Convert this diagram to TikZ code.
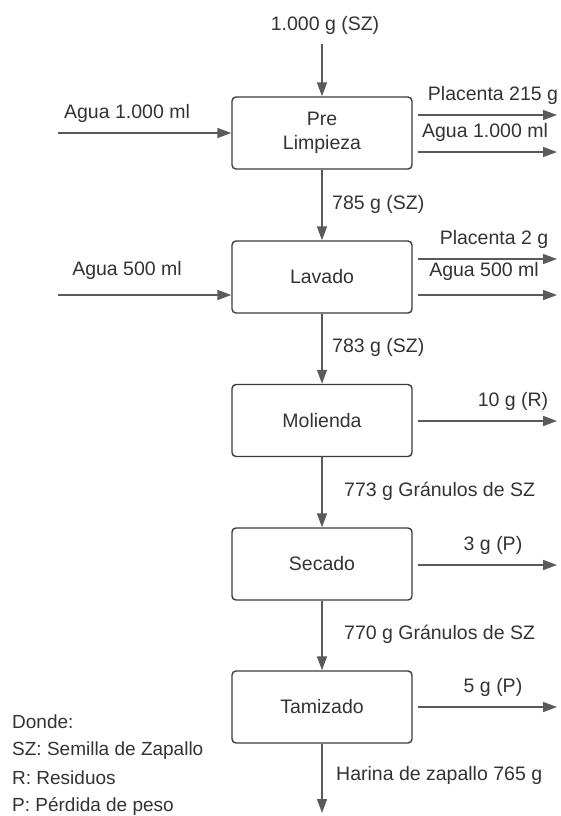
\documentclass[tikz,border=0pt]{standalone}
\usepackage{fontspec}
\setmainfont{Liberation Sans}
\usetikzlibrary{arrows.meta}
\definecolor{txt}{HTML}{333333}
\definecolor{ln}{HTML}{5A5A5A}
\definecolor{bx}{HTML}{3C3C3C}
\begin{document}
\begin{tikzpicture}[x=1pt,y=-1pt,
  proc/.style={draw=bx, line width=1.4pt, rounded corners=4pt, minimum width=180pt, minimum height=72pt, inner sep=0pt, align=center, text=txt, font=\fontsize{19.5}{24}\selectfont},
  flow/.style={draw=ln, line width=1.5pt, -{Triangle[length=14pt,width=10pt]}},
  lbl/.style={inner sep=0pt, text=txt, font=\fontsize{19.5}{24}\selectfont},
  leg/.style={inner sep=0pt, anchor=west, text=txt, font=\fontsize{19}{23}\selectfont}]
\useasboundingbox (0,0) rectangle (560,816);
\fill[white] (0,0) rectangle (560,816);

% process boxes
\node[proc] (b1) at (322,133) {Pre\\Limpieza};
\node[proc] (b2) at (322,277) {Lavado};
\node[proc] (b3) at (322,420.5) {Molienda};
\node[proc] (b4) at (322,564) {Secado};
\node[proc] (b5) at (322,707) {Tamizado};

% top input
\node[lbl] (top) at (325,25) {1.000 g (SZ)};
\coordinate (topS) at (322,44);
\draw[flow] (topS) -- (b1.north);

% main flow
\draw[flow] (b1.south) -- (b2.north);
\draw[flow] (b2.south) -- (b3.north);
\draw[flow] (b3.south) -- (b4.north);
\draw[flow] (b4.south) -- (b5.north);
\coordinate (fin) at (322,813);
\draw[flow] (b5.south) -- (fin);

\node[lbl, anchor=west] (m1) at (332,204) {785 g (SZ)};
\node[lbl, anchor=west] (m2) at (332,347) {783 g (SZ)};
\node[lbl, anchor=west] (m3) at (344,491) {773 g Gránulos de SZ};
\node[lbl, anchor=west] (m4) at (344,634) {770 g Gránulos de SZ};
\node[lbl, anchor=west] (m5) at (336,775) {Harina de zapallo 765 g};

% left inputs
\coordinate (w1) at (58,133);
\draw[flow] (w1) -- (w1 -| b1.west);
\node[lbl] (lw1) at (127,113) {Agua 1.000 ml};
\coordinate (w2) at (58,295);
\draw[flow] (w2) -- (w2 -| b2.west);
\node[lbl] (lw2) at (127,270) {Agua 500 ml};

% right outputs
\coordinate (e1a) at (557,115);
\coordinate (e1b) at (557,152);
\coordinate (e2a) at (557,259);
\coordinate (e2b) at (557,295);
\coordinate (e3) at (557,421);
\coordinate (e4) at (557,565);
\coordinate (e5) at (557,707);
\draw[flow] ([xshift=5pt]e1a -| b1.east) -- (e1a);
\draw[flow] ([xshift=5pt]e1b -| b1.east) -- (e1b);
\draw[flow] ([xshift=5pt]e2a -| b2.east) -- (e2a);
\draw[flow] ([xshift=5pt]e2b -| b2.east) -- (e2b);
\draw[flow] ([xshift=5pt]e3 -| b3.east) -- (e3);
\draw[flow] ([xshift=5pt]e4 -| b4.east) -- (e4);
\draw[flow] ([xshift=5pt]e5 -| b5.east) -- (e5);

\node[lbl] (r1a) at (493,95) {Placenta 215 g};
\node[lbl] (r1b) at (485,132) {Agua 1.000 ml};
\node[lbl] (r2a) at (494,239) {Placenta 2 g};
\node[lbl] (r2b) at (484,271) {Agua 500 ml};
\node[lbl] (r3) at (513,401) {10 g (R)};
\node[lbl] (r4) at (493,545) {3 g (P)};
\node[lbl] (r5) at (493,687) {5 g (P)};

% legend
\node[leg] (g0) at (12,722) {Donde:};
\node[leg] (g1) at (12,751) {SZ: Semilla de Zapallo};
\node[leg] (g2) at (12,778) {R: Residuos};
\node[leg] (g3) at (12,806) {P: Pérdida de peso};
\end{tikzpicture}
\end{document}
